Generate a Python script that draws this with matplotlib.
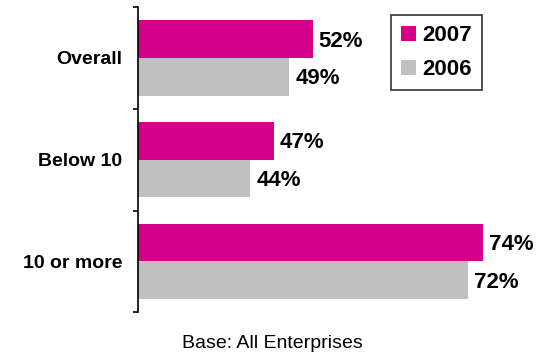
import matplotlib
matplotlib.use("Agg")
import matplotlib.pyplot as plt
import numpy as np
from matplotlib.patches import Patch

plt.rcParams["font.family"] = ["Liberation Sans", "DejaVu Sans"]

categories = ["Overall", "Below 10", "10 or more"]
series_names = ["2007", "2006"]
values_2007 = [52, 47, 74]
values_2006 = [49, 44, 72]

magenta = "#D4008C"
grey = "#C0C0C0"

fig = plt.figure(figsize=(5.39, 3.58), dpi=100)
ax = fig.add_axes([0.256, 0.128, 0.727, 0.852])

y = np.arange(len(categories))
h = 0.37
bars07 = ax.barh(y - h / 2, values_2007, height=h, left=0, color=magenta)
bars06 = ax.barh(y + h / 2, values_2006, height=h, left=0, color=grey)

# value labels just past each bar end
for bars, vals in ((bars07, values_2007), (bars06, values_2006)):
    for b, v in zip(bars, vals):
        ax.text(v + 0.8, b.get_y() + b.get_height() / 2 + 0.02, f"{v}%",
                va="center", ha="left", fontsize=16, fontweight="bold")

ax.set_xlim(29.5, 80)
ax.set_ylim(2.5, -0.5)

for s in ("top", "right", "bottom"):
    ax.spines[s].set_visible(False)
ax.spines["left"].set_linewidth(1.2)
ax.set_xticks([])

ax.set_yticks(y)
ax.set_yticklabels(categories, fontsize=14, fontweight="bold")
ax.tick_params(axis="y", which="major", length=0, pad=11.5)
ax.set_yticks(np.arange(-0.5, 3.0, 1.0), minor=True)
ax.tick_params(axis="y", which="minor", length=3.8, width=1.2, direction="out")

handles = [Patch(facecolor=magenta), Patch(facecolor=grey)]
leg = ax.legend(handles, series_names, loc="upper left",
                bbox_to_anchor=(391 / 539, 1 - 15 / 358),
                bbox_transform=fig.transFigure, borderaxespad=0,
                frameon=True, fancybox=False,
                prop={"weight": "bold", "size": 16}, handlelength=0.68,
                handleheight=0.68, labelspacing=0.6, borderpad=0.45,
                handletextpad=0.27)
leg.get_frame().set_edgecolor("black")
leg.get_frame().set_linewidth(1.2)

fig.text(272 / 539, 1 - 343 / 358, "Base: All Enterprises",
         ha="center", va="center", fontsize=14)

fig.savefig("out.png", dpi=100)
